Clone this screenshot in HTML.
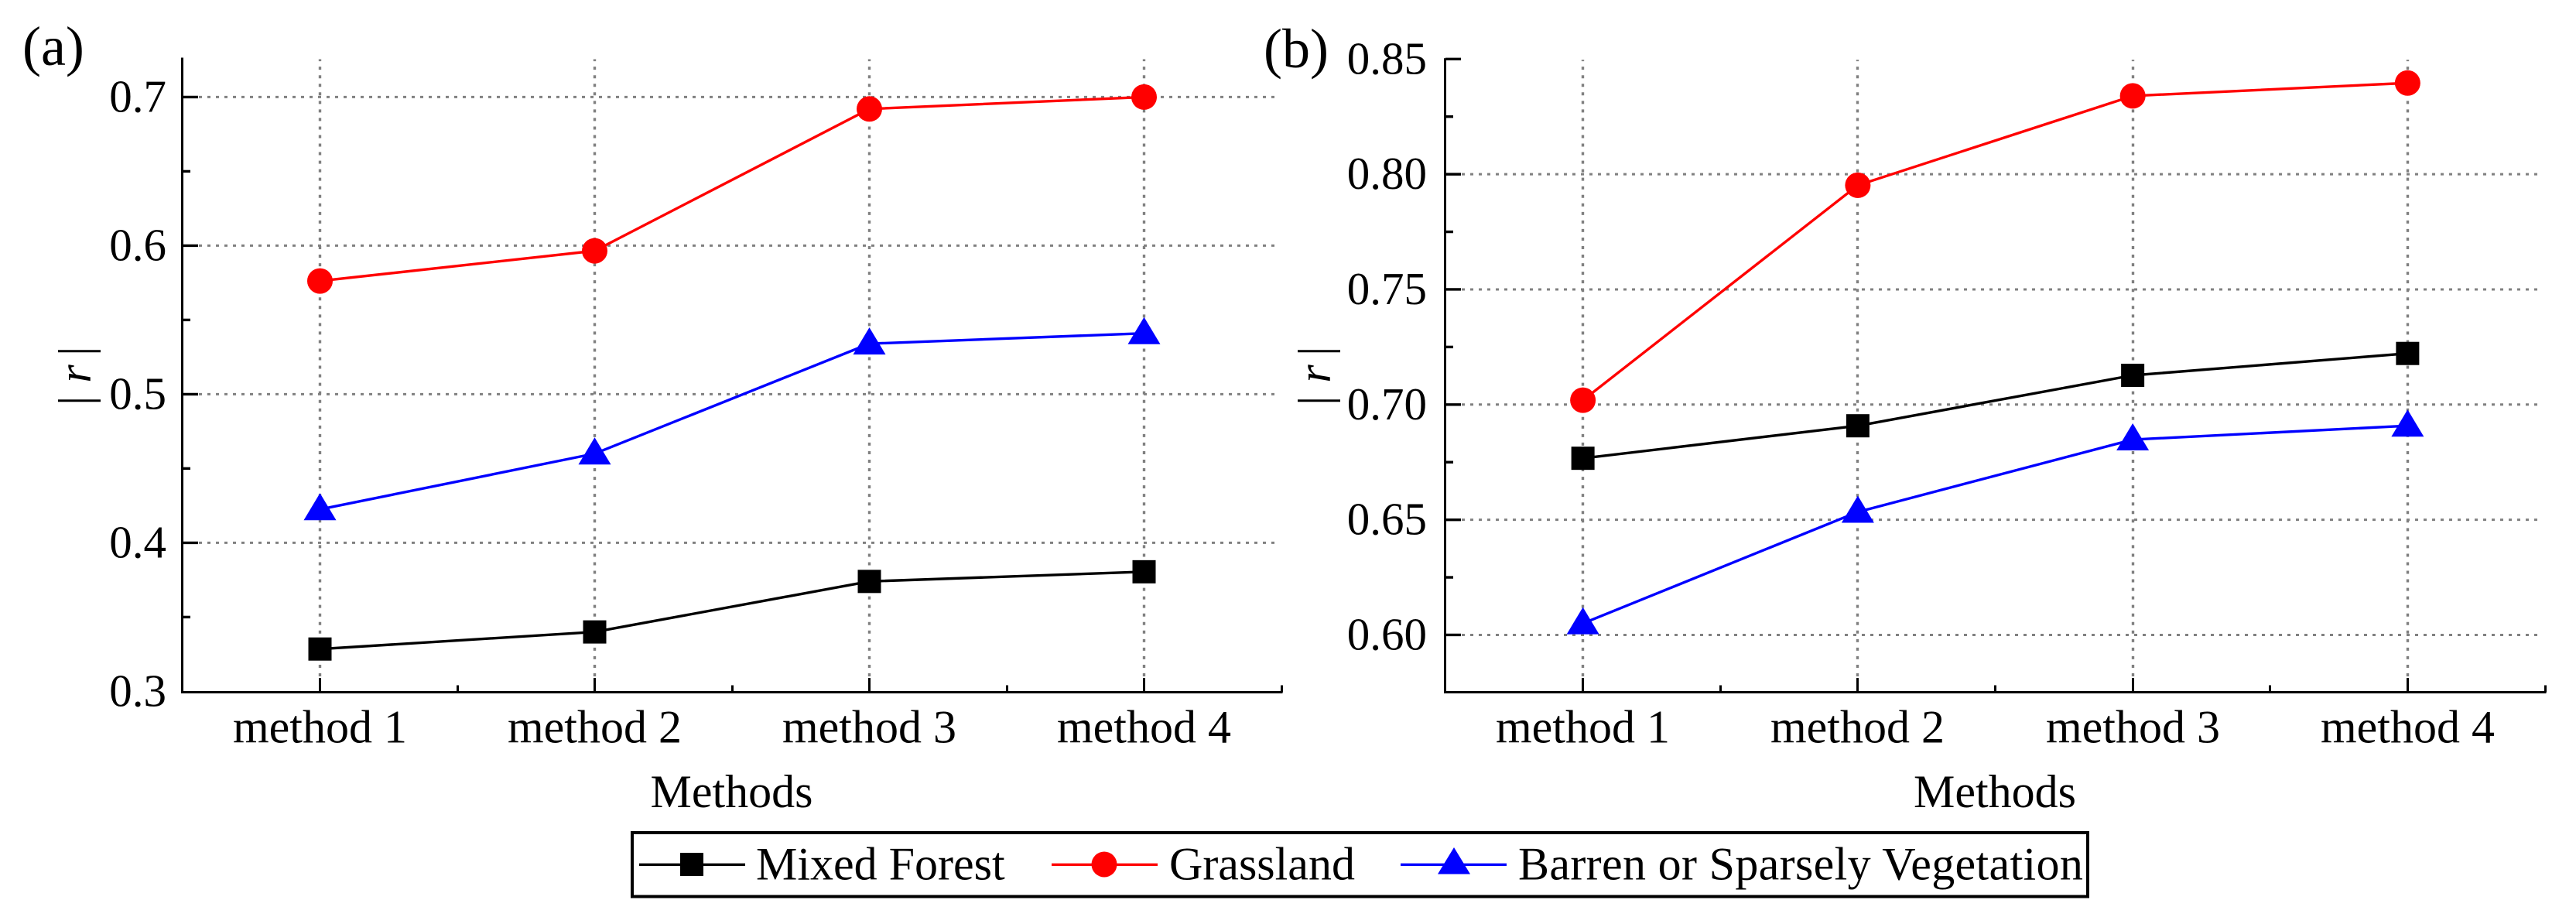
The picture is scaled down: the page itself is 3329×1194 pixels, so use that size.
<!DOCTYPE html>
<html lang="en">
<head>
<meta charset="utf-8">
<title>Correlation by method</title>
<style>
html,body{margin:0;padding:0;background:#fff;}
svg{display:block;}
text{font-family:"Liberation Serif",serif;fill:#000;}
</style>
</head>
<body>
<svg id="figure" xmlns="http://www.w3.org/2000/svg" width="3329" height="1194" viewBox="0 0 3329 1194">
  <rect x="0" y="0" width="3329" height="1194" fill="#fff"/>
  <g id="panel-a"></g>
  <g id="panel-b"></g>

  <text x="29" y="84" font-size="72">(a)</text>
  <text x="1633" y="87" font-size="72">(b)</text>

  <text x="945.5" y="1043" font-size="60" text-anchor="middle">Methods</text>
  <text x="2578" y="1043" font-size="60" text-anchor="middle">Methods</text>

  <g font-size="60">
    <text transform="translate(117,453.7) rotate(-90)" text-anchor="middle">|</text>
    <text transform="translate(117,483) rotate(-90)" text-anchor="middle" font-style="italic">r</text>
    <text transform="translate(117,517.7) rotate(-90)" text-anchor="middle">|</text>
  </g>
  <g font-size="60">
    <text transform="translate(1719,453.7) rotate(-90)" text-anchor="middle">|</text>
    <text transform="translate(1719,483) rotate(-90)" text-anchor="middle" font-style="italic">r</text>
    <text transform="translate(1719,517.7) rotate(-90)" text-anchor="middle">|</text>
  </g>

  <g>
    <rect x="817" y="1076" width="1881" height="82.5" fill="#fff" stroke="#000" stroke-width="4"/>
    <g>
      <line x1="826" y1="1117.3" x2="963" y2="1117.3" stroke="#000" stroke-width="3.3"/>
      <rect x="879" y="1102" width="30" height="30" fill="#000"/>
      <text x="977" y="1136.7" font-size="60">Mixed Forest</text>
    </g>
    <g>
      <line x1="1359" y1="1117.3" x2="1496" y2="1117.3" stroke="#f00" stroke-width="3.3"/>
      <circle cx="1427" cy="1117" r="16.5" fill="#f00"/>
      <text x="1511" y="1136.7" font-size="60">Grassland</text>
    </g>
    <g>
      <line x1="1810" y1="1117.3" x2="1947" y2="1117.3" stroke="#00f" stroke-width="3.3"/>
      <polygon points="1879,1095 1900,1129.5 1858,1129.5" fill="#00f"/>
      <text x="1962" y="1136.7" font-size="60" letter-spacing="0.34">Barren or Sparsely Vegetation</text>
    </g>
  </g>
</svg>
<script>
const categories = ['method 1', 'method 2', 'method 3', 'method 4'];

const majorTicksA = [0.3, 0.4, 0.5, 0.6, 0.7];
const tickLabelsA = ['0.3', '0.4', '0.5', '0.6', '0.7'];
const minorTicksA = [0.35, 0.45, 0.55, 0.65];
const mixedForestA = [0.3285, 0.34, 0.374, 0.3805];
const grasslandA = [0.5762, 0.5965, 0.692, 0.70];
const barrenA = [0.4225, 0.46, 0.534, 0.541];

const majorTicksB = [0.60, 0.65, 0.70, 0.75, 0.80, 0.85];
const tickLabelsB = ['0.60', '0.65', '0.70', '0.75', '0.80', '0.85'];
const minorTicksB = [0.625, 0.675, 0.725, 0.775, 0.825];
const mixedForestB = [0.6767, 0.6908, 0.7127, 0.7222];
const grasslandB = [0.7019, 0.7952, 0.834, 0.8396];
const barrenB = [0.605, 0.6534, 0.6848, 0.6908];

const NS = 'http://www.w3.org/2000/svg';
const GREY = '#808080';
const AXIS_Y = 894.5;

function make(parent, tag, attrs, text) {
  const node = document.createElementNS(NS, tag);
  for (const key in attrs) node.setAttribute(key, attrs[key]);
  if (text !== undefined) node.textContent = text;
  parent.appendChild(node);
  return node;
}

function drawPanel(rootId, left, right, bottomPx, topPx, domainMin, domainMax, labelRight, majors, labels, minors, forest, grass, barren) {
  const root = document.getElementById(rootId);
  const xOf = function (i) { return left + (i + 0.5) * (right - left) / categories.length; };
  const yOf = function (v) { return bottomPx - (v - domainMin) * (bottomPx - topPx) / (domainMax - domainMin); };
  const snap = function (x) { return Math.round(x - 0.5) + 0.5; };

  // grid lines
  majors.forEach(function (v) {
    const y = yOf(v);
    if (y < topPx + 2 || y > AXIS_Y - 4) return;
    const g = make(root, 'line', { x1: left + 21, x2: right - 3, y1: y, y2: y, stroke: GREY, 'stroke-width': 3, 'stroke-dasharray': '4 7' });
    
    
  });
  categories.forEach(function (c, i) {
    const g = make(root, 'line', { x1: snap(xOf(i)), x2: snap(xOf(i)), y1: AXIS_Y - 20.5, y2: topPx + 1, stroke: GREY, 'stroke-width': 3.4, 'stroke-dasharray': '4 7.04' });
    
    
  });

  // axes
  const yAxis = make(root, 'line', { x1: left - 0.5, x2: left - 0.5, y1: topPx - 1, y2: AXIS_Y + 1.5, stroke: '#000', 'stroke-width': 3 });
  
  
  const xAxis = make(root, 'line', { x1: left - 2, x2: right + 1.5, y1: AXIS_Y, y2: AXIS_Y, stroke: '#000', 'stroke-width': 3 });
  
  

  // y ticks + labels
  majors.forEach(function (v, i) {
    const y = yOf(v);
    if (y <= AXIS_Y - 4) {
      const t = make(root, 'line', { x1: left, x2: left + 20, y1: y, y2: y, stroke: '#000', 'stroke-width': 3.4 });
      
      
    }
    const l = make(root, 'text', { x: labelRight, y: y + 19, 'font-size': 59, 'text-anchor': 'end' }, labels[i]);
    
    
  });
  minors.forEach(function (v) {
    const y = yOf(v);
    const t = make(root, 'line', { x1: left, x2: left + 10, y1: y, y2: y, stroke: '#000', 'stroke-width': 3.4 });
    
    
  });

  // x ticks + labels
  categories.forEach(function (c, i) {
    const x = snap(xOf(i));
    const t = make(root, 'line', { x1: x, x2: x, y1: AXIS_Y, y2: AXIS_Y - 18.5, stroke: '#000', 'stroke-width': 3 });
    
    
    const l = make(root, 'text', { x: x, y: 959.5, 'font-size': 60, 'text-anchor': 'middle' }, c);
    
    
    const mx = snap(xOf(i + 0.5));
    const m = make(root, 'line', { x1: mx, x2: mx, y1: AXIS_Y, y2: AXIS_Y - 9, stroke: '#000', 'stroke-width': 3 });
    
    
  });

  // series
  function polyline(values, color, name) {
    const pts = values.map(function (v, i) { return xOf(i) + ',' + yOf(v); }).join(' ');
    const p = make(root, 'polyline', { points: pts, fill: 'none', stroke: color, 'stroke-width': 3.4, 'stroke-linejoin': 'round' });
    
    
  }
  polyline(forest, '#000', 'series-line-mixed-forest');
  polyline(grass, '#f00', 'series-line-grassland');
  polyline(barren, '#00f', 'series-line-barren');

  forest.forEach(function (v, i) {
    const m = make(root, 'rect', { x: xOf(i) - 15, y: yOf(v) - 15, width: 30, height: 30, fill: '#000' });
    
    
  });
  grass.forEach(function (v, i) {
    const m = make(root, 'circle', { cx: xOf(i), cy: yOf(v), r: 16.5, fill: '#f00' });
    
    
  });
  barren.forEach(function (v, i) {
    const x = xOf(i), y = yOf(v);
    const pts = x + ',' + (y - 21) + ' ' + (x + 21) + ',' + (y + 14) + ' ' + (x - 21) + ',' + (y + 14);
    const m = make(root, 'polygon', { points: pts, fill: '#00f' });
    
    
  });
}

drawPanel('panel-a', 236, 1656, 893.4, 75.5, 0.3, 0.726, 215, majorTicksA, tickLabelsA, minorTicksA, mixedForestA, grasslandA, barrenA);
drawPanel('panel-b', 1868, 3289, 894, 76.3, 0.5753, 0.85, 1844, majorTicksB, tickLabelsB, minorTicksB, mixedForestB, grasslandB, barrenB);
</script>
</body>
</html>
